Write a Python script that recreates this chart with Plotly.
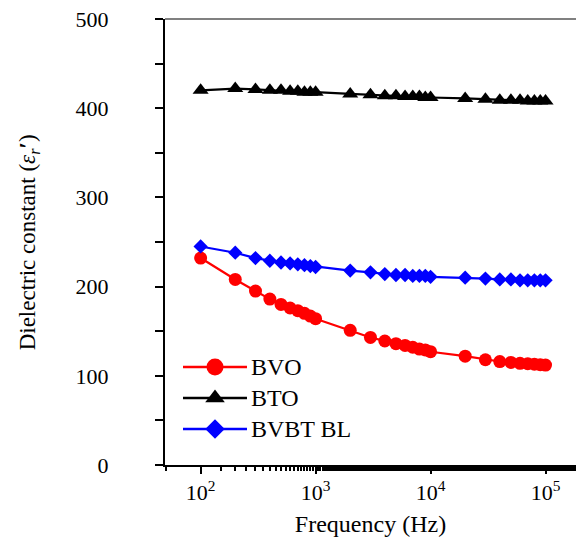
import plotly.graph_objects as go

freq = [100, 200, 300, 400, 500, 600, 700, 800, 900, 1000,
        2000, 3000, 4000, 5000, 6000, 7000, 8000, 9000, 10000,
        20000, 30000, 40000, 50000, 60000, 70000, 80000, 90000, 100000]
bvo = [232, 208, 195, 186, 180, 176, 173, 170, 167, 164,
       151, 143, 139, 136, 134, 132, 130, 129, 127,
       122, 118, 116, 115, 114, 113.5, 113, 112.5, 112]
bto = [420, 422, 421, 420, 420, 419, 419, 418, 418, 418,
       416, 415, 414, 414, 413, 413, 413, 412, 412,
       411, 410, 409, 409, 409, 408, 408, 408, 408]
bvbt = [245, 238, 232, 229, 227, 226, 225, 224, 223, 222,
        218, 216, 214, 213, 213, 212, 212, 212, 211,
        210, 209, 208, 208, 207, 207, 207, 207, 207]

series_names = ["BVO", "BTO", "BVBT BL"]
series_values = [bvo, bto, bvbt]
series_colors = ["#ff0000", "#000000", "#0000ff"]
series_symbols = ["circle", "triangle-up", "diamond"]
marker_sizes = [13, 14, 11]
legend_marker_sizes = [17, 17, 15]

x_tickvals = [100, 1000, 10000, 100000]
x_ticktext = ["10<sup>2</sup>", "10<sup>3</sup>", "10<sup>4</sup>", "10<sup>5</sup>"]
y_tickvals = [0, 100, 200, 300, 400, 500]

font_family = "Liberation Serif, Times New Roman, serif"

fig = go.Figure()
for name, vals, col, sym, ms in zip(series_names, series_values, series_colors,
                                    series_symbols, marker_sizes):
    fig.add_trace(go.Scatter(x=freq, y=vals, name=name, mode="lines+markers",
                             showlegend=False,
                             line=dict(color=col, width=2.2),
                             marker=dict(symbol=sym, size=ms, color=col, opacity=1)))

# custom legend drawn on a hidden overlay axis (0..1 coordinates)
leg_rows = [0.2197, 0.1502, 0.0807]
leg_line_x = [0.0438, 0.1995]
leg_marker_x = [0.1217]
for name, col, sym, ms, ly in zip(series_names, series_colors, series_symbols,
                                  legend_marker_sizes, leg_rows):
    fig.add_trace(go.Scatter(x=leg_line_x, y=[ly] * 2, xaxis="x2", yaxis="y2",
                             mode="lines", showlegend=False, hoverinfo="skip",
                             line=dict(color=col, width=2.5)))
    fig.add_trace(go.Scatter(x=leg_marker_x, y=[ly], xaxis="x2", yaxis="y2",
                             mode="markers", showlegend=False, hoverinfo="skip",
                             marker=dict(symbol=sym, size=ms, color=col, opacity=1)))
    fig.add_annotation(x=0.2044, y=ly, xref="paper", yref="paper", text=name,
                       showarrow=False, xanchor="left", yanchor="middle",
                       font=dict(size=24, family=font_family, color="black"))

fig.update_layout(
    width=576, height=538,
    margin=dict(l=165, r=0, t=19, b=73),
    paper_bgcolor="white", plot_bgcolor="white",
    font=dict(family=font_family, size=20, color="black"),
    showlegend=False,
    xaxis=dict(type="log", range=[1.69, 5.265],
               tickvals=x_tickvals, ticktext=x_ticktext,
               ticks="outside", ticklen=7, tickwidth=1.5, tickcolor="black",
               showline=True, linecolor="black", linewidth=2,
               showgrid=False, zeroline=False,
               minor=dict(ticks="outside", ticklen=4, tickwidth=1.5,
                          tickcolor="black", showgrid=False),
               title=dict(text="Frequency (Hz)", standoff=11,
                          font=dict(size=24, family=font_family)),
               tickfont=dict(size=22)),
    yaxis=dict(range=[0, 500], tickvals=y_tickvals,
               ticks="outside", ticklen=8, tickwidth=1.5, tickcolor="black",
               showline=True, linecolor="black", linewidth=2,
               showgrid=False, zeroline=False, ticklabelstandoff=42,
               minor=dict(dtick=50, ticks="outside", ticklen=8, tickwidth=1.5,
                          tickcolor="black", showgrid=False),
               tickfont=dict(size=22)),
    xaxis2=dict(overlaying="x", range=[0, 1], visible=False, fixedrange=True),
    yaxis2=dict(overlaying="y", range=[0, 1], visible=False, fixedrange=True),
)
fig.add_annotation(x=-0.33, y=0.5, xref="paper", yref="paper", textangle=-90,
                   text="Dielectric constant (<i>ε</i><sub><i>r</i></sub><b>′</b>)",
                   showarrow=False, xanchor="center", yanchor="middle",
                   font=dict(size=23, family=font_family, color="black"))
fig.add_shape(type="line", xref="paper", yref="paper", x0=0, x1=1, y0=1, y1=1,
              line=dict(color="#808080", width=2))
fig.add_shape(type="line", xref="paper", yref="paper", x0=-0.0195, x1=0, y0=0, y1=0,
              line=dict(color="black", width=2))

fig.write_html("out.html")
